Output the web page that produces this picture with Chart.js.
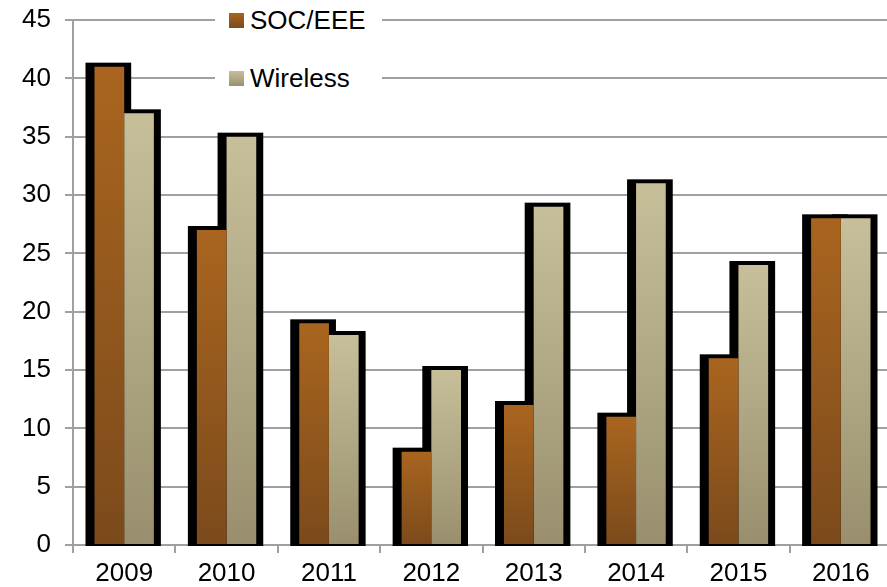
<!DOCTYPE html>
<html lang="en">
<head>
    <meta charset="UTF-8">
    <title>SOC/EEE vs Wireless</title>
    <style>
        body { margin: 0; background: #fff; }
        #wrap { position: relative; width: 887px; height: 587px; overflow: hidden; }
        #box { position: absolute; left: 0; top: 0; width: 892px; height: 587px; }
        #legend {
            position: absolute; left: 215px; top: 0; width: 167px; height: 96px;
            background: #fff; font-family: "Liberation Sans", Arial, sans-serif;
            font-size: 26px; color: #000;
        }
        .item { position: absolute; left: 14px; height: 30px; line-height: 30px; white-space: nowrap; }
        .item span { display: inline-block; width: 15px; height: 15px; margin-right: 6px; vertical-align: 1px; }
    </style>
</head>
<body>
<div id="wrap">
    <!-- Plotfläche läuft rechts etwas über den Rand hinaus -->
    <div id="box"><canvas id="myChart"></canvas></div>
    <div id="legend">
        <div class="item" style="top:5px"><span style="background:linear-gradient(#a8641f,#7c4b1c)"></span>SOC/EEE</div>
        <div class="item" style="top:63px"><span style="background:linear-gradient(#c6be99,#9b9170)"></span>Wireless</div>
    </div>
</div>

<script src="https://cdn.jsdelivr.net/npm/chart.js"></script>
<script>
    // Jahre und Werte
    const years = ['2009', '2010', '2011', '2012', '2013', '2014', '2015', '2016'];
    const socEee = [41, 27, 19, 8, 12, 11, 16, 28];
    const wireless = [37, 35, 18, 15, 29, 31, 24, 28];
    const yTicks = [0, 5, 10, 15, 20, 25, 30, 35, 40, 45];

    const font = { family: '"Liberation Sans", Arial, sans-serif', size: 26 };
    const gridGrey = '#a0a0a0';

    // Verlauf pro Balken von oben nach unten
    function barGradient(top, bottom) {
        return (c) => {
            const chart = c.chart;
            if (!chart.chartArea || c.raw === undefined) return top;
            const y = chart.scales.y;
            const y0 = y.getPixelForValue(c.raw);
            const y1 = y.getPixelForValue(0);
            const g = chart.ctx.createLinearGradient(0, y0, 0, y1);
            g.addColorStop(0, top);
            g.addColorStop(1, bottom);
            return g;
        };
    }

    // schwarzer Rahmen hinter jedem Balken
    const outline = {
        id: 'outline',
        beforeDatasetsDraw(chart) {
            const ctx = chart.ctx;
            ctx.save();
            ctx.fillStyle = '#000';
            chart.data.datasets.forEach((ds, i) => {
                chart.getDatasetMeta(i).data.forEach((bar) => {
                    const p = bar.getProps(['x', 'y', 'base', 'width'], true);
                    ctx.fillRect(p.x - p.width / 2 - 9, p.y - 4, p.width + 16, p.base - p.y + 6);
                });
            });
            ctx.restore();
        }
    };

    new Chart(document.getElementById('myChart'), {
        type: 'bar',
        data: {
            labels: years,
            datasets: [
                { label: 'SOC/EEE', data: socEee, backgroundColor: barGradient('#a9651f', '#7b4a1b') },
                { label: 'Wireless', data: wireless, backgroundColor: barGradient('#c7bf9a', '#998f6e') }
            ]
        },
        options: {
            responsive: true,
            maintainAspectRatio: false,
            animation: false,
            layout: { padding: { top: 20, right: 0, left: 0, bottom: 0 } },
            datasets: { bar: { categoryPercentage: 0.58, barPercentage: 1.0, borderWidth: 0 } },
            plugins: { legend: { display: false }, tooltip: { enabled: false } },
            scales: {
                x: {
                    grid: { display: true, drawOnChartArea: false, offset: true, color: gridGrey, lineWidth: 2, tickLength: 8 },
                    border: { color: gridGrey, width: 2 },
                    ticks: { color: '#000', font: font, padding: 5, maxRotation: 0 },
                    afterFit(scale) {
                        scale.height = 42;
                        scale.paddingLeft = 0;
                        scale.paddingRight = 0;
                    }
                },
                y: {
                    min: 0,
                    max: 45,
                    afterBuildTicks(scale) { scale.ticks = yTicks.map(v => ({ value: v })); },
                    grid: { color: gridGrey, lineWidth: 2, tickLength: 8 },
                    border: { color: gridGrey, width: 2 },
                    ticks: { color: '#000', font: font, padding: 14 },
                    afterFit(scale) {
                        scale.width = 73;
                        scale.paddingTop = 0;
                        scale.paddingBottom = 0;
                    }
                }
            }
        },
        plugins: [outline]
    });
</script>
</body>
</html>
